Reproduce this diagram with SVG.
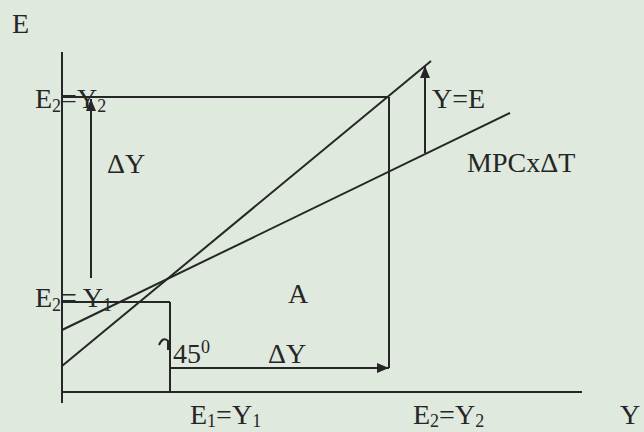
<svg xmlns="http://www.w3.org/2000/svg" width="644" height="432" viewBox="0 0 644 432">
<style>
.ln{stroke:#262626;stroke-width:2;fill:none}
.t{font-family:"Liberation Serif","Times New Roman",serif;font-size:28px;fill:#262626}
.s{font-size:18px}
</style>
<defs>
<marker id="ah" viewBox="0 0 12 12" refX="12" refY="6" markerWidth="12" markerHeight="12" markerUnits="userSpaceOnUse" orient="auto">
<path d="M0,1 L12,6 L0,11 Z" fill="#262626"/>
</marker>
</defs>
<rect width="644" height="432" fill="#dfe9dd"/>
<g id="axes">
<line class="ln" x1="62" y1="52" x2="62" y2="403"/>
<line class="ln" x1="62" y1="392" x2="582" y2="392"/>
</g>
<g id="connectors">
<line class="ln" x1="62" y1="97" x2="388" y2="97"/>
<line class="ln" x1="389" y1="97" x2="389" y2="368"/>
<line class="ln" x1="170" y1="368" x2="389" y2="368" marker-end="url(#ah)"/>
<line class="ln" x1="62" y1="302" x2="170" y2="302"/>
<line class="ln" x1="170" y1="302" x2="170" y2="392"/>
<line class="ln" x1="62" y1="366" x2="431" y2="61"/>
<line class="ln" x1="62" y1="330" x2="510" y2="113"/>
<line class="ln" x1="425" y1="153" x2="425" y2="66" marker-end="url(#ah)"/>
<line class="ln" x1="91" y1="278" x2="91" y2="99" marker-end="url(#ah)"/>
<path class="ln" d="M159,345 Q163,336 168,341 L168,350" stroke-width="1.6"/>
</g>
<g id="labels">
<text class="t" x="12" y="33">E</text>
<text class="t" x="35" y="108">E<tspan class="s" dy="4">2</tspan><tspan dy="-4">=Y</tspan><tspan class="s" dy="4">2</tspan></text>
<text class="t" x="107" y="173">ΔY</text>
<text class="t" x="35" y="307">E<tspan class="s" dy="4">2</tspan><tspan dy="-4">= Y</tspan><tspan class="s" dy="4">1</tspan></text>
<text class="t" x="432" y="108">Y=E</text>
<text class="t" x="467" y="172">MPCxΔT</text>
<text class="t" x="288" y="303">A</text>
<text class="t" x="173" y="363">45<tspan class="s" dy="-10">0</tspan></text>
<text class="t" x="268" y="363">ΔY</text>
<text class="t" x="190" y="424">E<tspan class="s" dy="3">1</tspan><tspan dy="-3">=Y</tspan><tspan class="s" dy="3">1</tspan></text>
<text class="t" x="413" y="424">E<tspan class="s" dy="3">2</tspan><tspan dy="-3">=Y</tspan><tspan class="s" dy="3">2</tspan></text>
<text class="t" x="620" y="424">Y</text>
</g>
</svg>
